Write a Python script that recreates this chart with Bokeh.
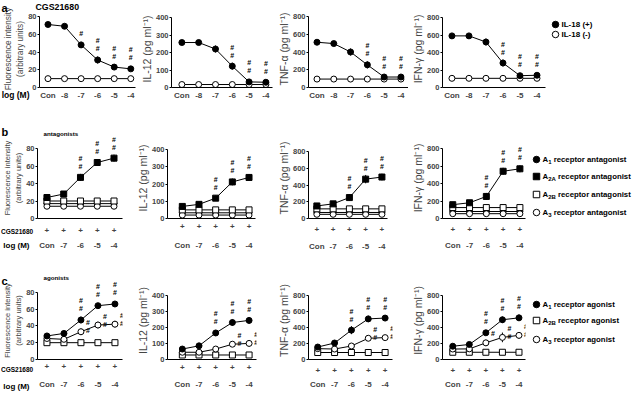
from bokeh.plotting import figure
from bokeh.models import Range1d, FixedTicker, LinearAxis, ColumnDataSource
from bokeh.layouts import row, column
from bokeh.embed import file_html
from bokeh.resources import INLINE
from bokeh.core.properties import value

FONT = "Liberation Sans"

# ---------------- data ----------------
conc_a = ["Con", "-8", "-7", "-6", "-5", "-4"]
conc_bc = ["Con", "-7", "-6", "-5", "-4"]
cgs_flags = ["+", "+", "+", "+", "+"]

# row a : CGS21680 with IL-18 (+) / IL-18 (-)
a_fluo_pos = [71, 69, 48, 31, 23, 21]
a_fluo_pos_err = [1.5, 1.5, 3.5, 4, 2, 1.5]
a_fluo_pos_sig = [0, 0, 1, 2, 2, 2]
a_fluo_neg = [10, 10, 10, 10, 10, 10]
a_il12_pos = [257, 257, 220, 122, 32, 30]
a_il12_pos_err = [5, 5, 20, 20, 5, 5]
a_il12_pos_sig = [0, 0, 0, 2, 2, 2]
a_il12_neg = [17, 17, 17, 17, 17, 17]
a_tnf_pos = [510, 495, 400, 255, 118, 118]
a_tnf_pos_err = [10, 10, 40, 40, 10, 10]
a_tnf_pos_sig = [0, 0, 0, 2, 2, 2]
a_tnf_neg = [95, 95, 95, 95, 95, 95]
a_ifn_pos = [590, 590, 520, 280, 135, 140]
a_ifn_pos_err = [10, 10, 40, 40, 15, 15]
a_ifn_pos_sig = [0, 0, 0, 2, 2, 2]
a_ifn_neg = [105, 105, 105, 105, 105, 105]

# row b : antagonists
b_fluo_a1 = [17, 17, 17, 17, 17]
b_fluo_a2a = [24, 28, 47, 64, 69]
b_fluo_a2a_err = [1.5, 1.5, 4, 4, 4]
b_fluo_a2a_sig = [0, 0, 2, 2, 2]
b_fluo_a2b = [20, 20, 20, 20, 20]
b_fluo_a3 = [14, 14, 14, 14, 14]
b_il12_a1 = [33, 33, 33, 33, 33]
b_il12_a2a = [70, 82, 118, 212, 238]
b_il12_a2a_err = [8, 8, 15, 20, 20]
b_il12_a2a_sig = [0, 0, 2, 2, 2]
b_il12_a2b = [50, 50, 50, 50, 50]
b_il12_a3 = [20, 20, 20, 20, 20]
b_tnf_a1 = [72, 72, 72, 72, 72]
b_tnf_a2a = [150, 175, 250, 470, 495]
b_tnf_a2a_err = [15, 15, 40, 50, 40]
b_tnf_a2a_sig = [0, 0, 2, 2, 2]
b_tnf_a2b = [115, 115, 115, 115, 115]
b_tnf_a3 = [50, 50, 50, 50, 50]
b_ifn_a1 = [80, 80, 80, 80, 80]
b_ifn_a2a = [158, 180, 252, 540, 568]
b_ifn_a2a_err = [15, 15, 40, 40, 40]
b_ifn_a2a_sig = [0, 0, 2, 2, 2]
b_ifn_a2b = [125, 125, 125, 125, 125]
b_ifn_a3 = [55, 55, 55, 55, 55]

# row c : agonists
c_fluo_a1 = [28, 31, 47, 64, 66]
c_fluo_a1_err = [1.5, 1.5, 4, 3, 2]
c_fluo_a1_sig = [0, 0, 2, 2, 2]
c_fluo_a2b = [20, 20, 20, 20, 20]
c_fluo_a3 = [25, 24, 33, 41, 42]
c_fluo_a3_err = [1.5, 1.5, 4, 4, 4]
c_fluo_a3_sig = [0, 0, 2, 2, 2]
c_il12_a1 = [65, 85, 165, 230, 243]
c_il12_a1_err = [8, 8, 15, 20, 20]
c_il12_a1_sig = [0, 0, 2, 2, 2]
c_il12_a2b = [28, 28, 28, 28, 28]
c_il12_a3 = [45, 45, 65, 95, 100]
c_il12_a3_err = [5, 5, 8, 15, 20]
c_il12_a3_sig = [0, 0, 0, 2, 2]
c_tnf_a1 = [155, 205, 365, 505, 515]
c_tnf_a1_err = [15, 15, 50, 40, 30]
c_tnf_a1_sig = [0, 0, 2, 2, 2]
c_tnf_a2b = [87, 87, 87, 87, 87]
c_tnf_a3 = [135, 130, 168, 264, 272]
c_tnf_a3_err = [10, 10, 15, 25, 30]
c_tnf_a3_sig = [0, 0, 0, 2, 2]
c_ifn_a1 = [165, 187, 332, 494, 518]
c_ifn_a1_err = [15, 15, 30, 40, 40]
c_ifn_a1_sig = [0, 0, 2, 2, 2]
c_ifn_a2b = [90, 90, 90, 90, 90]
c_ifn_a3 = [130, 132, 207, 275, 300]
c_ifn_a3_err = [10, 10, 40, 60, 40]
c_ifn_a3_sig = [0, 0, 1, 2, 2]

fluo_ticks = [0, 20, 40, 60, 80]
il12_ticks = [0, 100, 200, 300, 400]
cyto_ticks = [0, 200, 400, 600, 800]

fluo_label = "Fluorescence intensity\n(arbitrary units)"
il12_label = "IL-12 (pg ml\u207b\u00b9)"
tnf_label = "TNF-\u03b1 (pg ml\u207b\u00b9)"
ifn_label = "IFN-\u03b3 (pg ml\u207b\u00b9)"

legend_a = [("il18p", "IL-18 (+)", "", ""), ("il18m", "IL-18 (-)", "", "")]
legend_b = [("a1", "A", "1", "receptor antagonist"),
            ("a2a", "A", "2A", "receptor antagonist"),
            ("a2b", "A", "2B", "receptor antagonist"),
            ("a3", "A", "3", "receptor antagonist")]
legend_c = [("a1", "A", "1", "receptor agonist"),
            ("a2b", "A", "2B", "receptor agonist"),
            ("a3", "A", "3", "receptor agonist")]

# ---------------- styling ----------------
STYLE = {"il18p": ("circle", "black"), "il18m": ("circle", "white"),
         "a1": ("circle", "black"), "a2a": ("square", "black"),
         "a2b": ("square", "white"), "a3": ("circle", "white")}
MSIZE = 6
LH = 9      # tick label box height (px)
VC = 4.4    # label box top -> visual centre (px)
CYTO_PX = 10.5
CW = {"A": 0.722, "B": 0.722}


def text_w(t, px):
    return sum(CW.get(c, 0.556) for c in t) * px


def add_series(p, yv, kind, err=None, sig=None, side="above"):
    x = list(range(len(yv)))
    marker, fill = STYLE[kind]
    p.line(x, yv, line_color="black", line_width=1)
    if err is not None:
        lo = [v - e for v, e in zip(yv, err)]
        hi = [v + e for v, e in zip(yv, err)]
        p.segment(x0=x, y0=lo, x1=x, y1=hi, line_color="black", line_width=1)
    p.scatter(x, yv, marker=marker, size=MSIZE, fill_color=fill,
              line_color="black", line_width=1)
    if sig is not None:
        sx, sy, xo, yo = [], [], [], []
        for i, (v, k) in enumerate(zip(yv, sig)):
            for j in range(k):
                sx.append(i)
                sy.append(v)
                if side == "above":
                    xo.append(0)
                    yo.append(-11 - 8 * j)
                else:
                    xo.append(7)
                    yo.append(-9 + 8 * j)
        src = ColumnDataSource(dict(x=sx, y=sy, xo=xo, yo=yo, t=["#"] * len(sx)))
        p.text(x="x", y="y", text="t", x_offset="xo", y_offset="yo", source=src,
               text_font=value(FONT), text_font_size="7px", text_font_style="bold",
               text_align="center", text_baseline="middle", text_color="black")


def make_panel(L, R, n, ymax, yticks, ylabel, ylab_px, xlabels, plus_c, con_c, series):
    row_top, row_bottom, frame_top, y0 = R
    width = L["cr"] - L["cl"]
    height = row_bottom - row_top
    sp = (L["x1"] - L["x0"]) / (n - 1)
    xr = Range1d(-(L["x0"] - L["fl"]) / sp, (n - 1) + (L["fr"] - L["x1"]) / sp)
    yr = Range1d(0, ymax * (y0 - frame_top) / (y0 - L["yt"]))
    p = figure(width=width, height=height, x_range=xr, y_range=yr,
               output_backend="svg", toolbar_location=None,
               min_border_left=L["fl"] - L["cl"], min_border_right=L["cr"] - L["fr"],
               min_border_top=frame_top - row_top, min_border_bottom=row_bottom - y0)
    p.outline_line_color = None
    p.xgrid.grid_line_color = None
    p.ygrid.grid_line_color = None
    p.background_fill_color = "white"
    p.border_fill_color = "white"

    ya = p.yaxis[0]
    ya.ticker = FixedTicker(ticks=yticks)
    ya.bounds = (0, ymax)
    ya.major_tick_out = 2
    ya.major_tick_in = 0
    ya.minor_tick_out = 0
    ya.minor_tick_in = 0
    ya.major_label_standoff = 1
    ya.major_label_text_font = FONT
    ya.major_label_text_font_size = "7.5px"
    ya.major_label_text_font_style = "bold"
    ya.axis_label = ylabel
    ya.axis_label_text_font = FONT
    ya.axis_label_text_font_size = f"{ylab_px}px"
    ya.axis_label_text_font_style = "normal"
    ya.axis_label_standoff = 0
    ya.axis_line_color = "black"

    xa = p.xaxis[0]
    xa.ticker = FixedTicker(ticks=list(range(n)))
    xa.major_tick_out = 0
    xa.major_tick_in = 0
    xa.minor_tick_out = 0
    xa.minor_tick_in = 0
    xa.major_label_text_font = FONT
    xa.major_label_text_font_size = "8px"
    xa.major_label_text_font_style = "bold"
    xa.axis_line_color = "black"
    if plus_c is None:
        xa.major_label_overrides = {i: t for i, t in enumerate(xlabels)}
        xa.major_label_standoff = max(0, int(round(con_c - y0 - VC)))
    else:
        s1 = max(0, int(round(plus_c - y0 - VC)))
        xa.major_label_overrides = {i: t for i, t in enumerate(cgs_flags)}
        xa.major_label_standoff = s1
        s2 = max(0, int(round(con_c - (y0 + s1 + LH) - VC)))
        ax2 = LinearAxis(ticker=FixedTicker(ticks=list(range(n))),
                         major_label_overrides={i: t for i, t in enumerate(xlabels)},
                         axis_line_color=None, major_tick_out=0, major_tick_in=0,
                         minor_tick_out=0, minor_tick_in=0, major_label_standoff=s2,
                         major_label_text_font=FONT, major_label_text_font_size="8px",
                         major_label_text_font_style="bold")
        p.add_layout(ax2, "below")

    for s in series:
        add_series(p, *s[0:2], **s[2])
    return p


# ---------------- row a ----------------
RA = (8, 128, 18, 95)
LA = [dict(cl=8, cr=145, fl=41, x0=50, x1=138, fr=143, yt=24),
      dict(cl=145, cr=282, fl=173, x0=184, x1=273, fr=280, yt=25),
      dict(cl=282, cr=416, fl=310, x0=319, x1=408, fr=416, yt=24),
      dict(cl=416, cr=556, fl=444, x0=454, x1=544, fr=553, yt=25)]
CA = 102
pa = [
    make_panel(LA[0], RA, 6, 80, fluo_ticks, fluo_label, 8.3, conc_a, None, CA,
               [(a_fluo_neg, "il18m", {}),
                (a_fluo_pos, "il18p", dict(err=a_fluo_pos_err, sig=a_fluo_pos_sig))]),
    make_panel(LA[1], RA, 6, 400, il12_ticks, il12_label, CYTO_PX, conc_a, None, CA,
               [(a_il12_neg, "il18m", {}),
                (a_il12_pos, "il18p", dict(err=a_il12_pos_err, sig=a_il12_pos_sig))]),
    make_panel(LA[2], RA, 6, 800, cyto_ticks, tnf_label, CYTO_PX, conc_a, None, CA,
               [(a_tnf_neg, "il18m", {}),
                (a_tnf_pos, "il18p", dict(err=a_tnf_pos_err, sig=a_tnf_pos_sig))]),
    make_panel(LA[3], RA, 6, 800, cyto_ticks, ifn_label, CYTO_PX, conc_a, None, CA,
               [(a_ifn_neg, "il18m", {}),
                (a_ifn_pos, "il18p", dict(err=a_ifn_pos_err, sig=a_ifn_pos_sig))]),
]

# ---------------- row b ----------------
RB = (128, 263, 145, 226)
LB = [dict(cl=8, cr=141, fl=40, x0=50, x1=121, fr=130, yt=156),
      dict(cl=141, cr=282, fl=168, x0=184, x1=256, fr=263, yt=157),
      dict(cl=282, cr=416, fl=310, x0=319, x1=389, fr=395, yt=159),
      dict(cl=416, cr=537, fl=444, x0=455, x1=527, fr=533, yt=156)]
PB = [239, 235, 238, 238]
CB = [253, 253, 254, 253]


def b_series(a1, a3, a2b, a2a, err, sig):
    return [(a1, "a1", {}), (a3, "a3", {}), (a2b, "a2b", {}),
            (a2a, "a2a", dict(err=err, sig=sig))]


pb = [
    make_panel(LB[0], RB, 5, 80, fluo_ticks, fluo_label, 7.5, conc_bc, PB[0], CB[0],
               b_series(b_fluo_a1, b_fluo_a3, b_fluo_a2b, b_fluo_a2a, b_fluo_a2a_err, b_fluo_a2a_sig)),
    make_panel(LB[1], RB, 5, 400, il12_ticks, il12_label, CYTO_PX, conc_bc, PB[1], CB[1],
               b_series(b_il12_a1, b_il12_a3, b_il12_a2b, b_il12_a2a, b_il12_a2a_err, b_il12_a2a_sig)),
    make_panel(LB[2], RB, 5, 800, cyto_ticks, tnf_label, CYTO_PX, conc_bc, PB[2], CB[2],
               b_series(b_tnf_a1, b_tnf_a3, b_tnf_a2b, b_tnf_a2a, b_tnf_a2a_err, b_tnf_a2a_sig)),
    make_panel(LB[3], RB, 5, 800, cyto_ticks, ifn_label, CYTO_PX, conc_bc, PB[3], CB[3],
               b_series(b_ifn_a1, b_ifn_a3, b_ifn_a2b, b_ifn_a2a, b_ifn_a2a_err, b_ifn_a2a_sig)),
]

# ---------------- row c ----------------
RC = (263, 399, 289, 369)
LC = [dict(cl=8, cr=141, fl=40, x0=50, x1=122, fr=130, yt=300),
      dict(cl=141, cr=282, fl=168, x0=184, x1=256, fr=264, yt=303),
      dict(cl=282, cr=416, fl=309, x0=319, x1=392, fr=400, yt=303),
      dict(cl=416, cr=537, fl=444, x0=455, x1=526, fr=533, yt=303)]
PC = [377, 378, 381, 381]
CC = [394, 394, 394, 394]


def c_series(a2b, a3, a3e, a3s, a1, a1e, a1s):
    return [(a2b, "a2b", {}), (a3, "a3", dict(err=a3e, sig=a3s, side="right")),
            (a1, "a1", dict(err=a1e, sig=a1s))]


pc = [
    make_panel(LC[0], RC, 5, 80, fluo_ticks, fluo_label, 7.5, conc_bc, PC[0], CC[0],
               c_series(c_fluo_a2b, c_fluo_a3, c_fluo_a3_err, c_fluo_a3_sig,
                        c_fluo_a1, c_fluo_a1_err, c_fluo_a1_sig)),
    make_panel(LC[1], RC, 5, 400, il12_ticks, il12_label, CYTO_PX, conc_bc, PC[1], CC[1],
               c_series(c_il12_a2b, c_il12_a3, c_il12_a3_err, c_il12_a3_sig,
                        c_il12_a1, c_il12_a1_err, c_il12_a1_sig)),
    make_panel(LC[2], RC, 5, 800, cyto_ticks, tnf_label, CYTO_PX, conc_bc, PC[2], CC[2],
               c_series(c_tnf_a2b, c_tnf_a3, c_tnf_a3_err, c_tnf_a3_sig,
                        c_tnf_a1, c_tnf_a1_err, c_tnf_a1_sig)),
    make_panel(LC[3], RC, 5, 800, cyto_ticks, ifn_label, CYTO_PX, conc_bc, PC[3], CC[3],
               c_series(c_ifn_a2b, c_ifn_a3, c_ifn_a3_err, c_ifn_a3_sig,
                        c_ifn_a1, c_ifn_a1_err, c_ifn_a1_sig)),
]

# ---------------- overlay: panel letters, row labels and legends ----------------
ov = figure(width=632, height=391, x_range=Range1d(8, 640), y_range=Range1d(399, 8),
            output_backend="svg", toolbar_location=None, x_axis_type=None,
            y_axis_type=None, min_border=0, margin=(-391, 0, 0, 0))
ov.outline_line_color = None
ov.background_fill_color = None
ov.border_fill_color = None
ov.xgrid.grid_line_color = None
ov.ygrid.grid_line_color = None


def ov_text(x, y, t, px, align="left", style="bold"):
    ov.text([x], [y], text=[t], text_font=value(FONT), text_font_size=f"{px}px",
            text_font_style=style, text_align=align, text_baseline="middle",
            text_color="black")


# panel letters and headings
ov_text(9, 15, "a", 11)
ov_text(43, 14, "CGS21680", 8.8)
ov_text(37, CA, "log (M)", 8.5, align="right")
ov_text(9, 139, "b", 11)
ov_text(51, 141, "antagonists", 6.2)
ov_text(8.5, PB[0], "CGS21680", 6.5)
ov_text(37, CB[0], "log (M)", 8, align="right")
ov_text(9, 288, "c", 11)
ov_text(51, 285, "agonists", 6.2)
ov_text(8.5, PC[0], "CGS21680", 6.5)
ov_text(37, CC[0], "log (M)", 8, align="right")


def ov_legend(entries, mx, tx, ys, fpx, spx):
    for (kind, base, sub, rest), y in zip(entries, ys):
        marker, fill = STYLE[kind]
        ov.scatter([mx], [y], marker=marker, size=MSIZE + 0.5, fill_color=fill,
                   line_color="black", line_width=1)
        ov_text(tx, y, base, fpx)
        if sub:
            x1 = tx + text_w(base, fpx)
            ov_text(x1, y + 2.5, sub, spx)
            ov_text(x1 + text_w(sub, spx) + 0.278 * fpx, y, rest, fpx)


ov_legend(legend_a, 563, 569, [32, 42], 8, 6)
ov_legend(legend_b, 544, 550, [167, 184, 202, 220], 7.8, 6)
ov_legend(legend_c, 544, 550, [312, 328, 347], 7.8, 6)

layout = column(row(*pa), row(*pb), row(*pc), ov)

with open("out.html", "w") as f:
    f.write(file_html(layout, INLINE))
